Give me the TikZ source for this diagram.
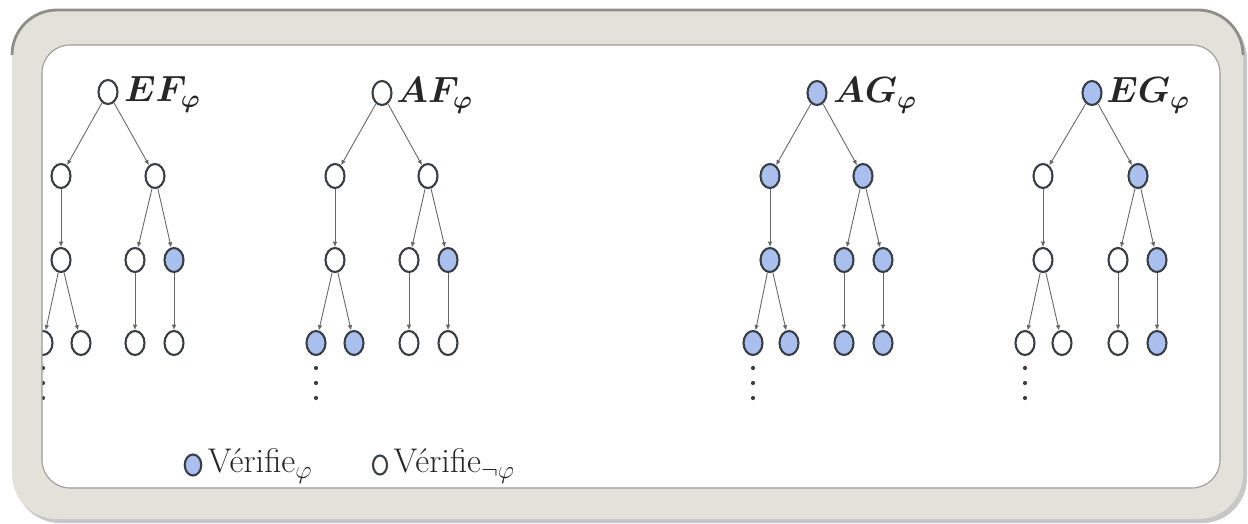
\documentclass[tikz,border=0pt]{standalone}
\usepackage{fontspec}
\usepackage{bm}
\usetikzlibrary{arrows.meta,positioning,shapes.geometric,calc}

\definecolor{satblue}{HTML}{A9C0EE}
\definecolor{ringgray}{HTML}{3A3F45}
\definecolor{framegray}{HTML}{E2E1DA}
\definecolor{framedark}{HTML}{8E8E88}

\tikzset{
  wnode/.style={ellipse,draw=ringgray,line width=1.2pt,fill=white,
    minimum width=0.38cm,minimum height=0.48cm,inner sep=0pt},
  bnode/.style={wnode,fill=satblue},
  trans/.style={draw=black!60,line width=0.5pt,-{Latex[length=3pt,width=2.6pt]}},
  lbl/.style={inner sep=0pt,text=black!85,font=\fontsize{20.74}{24}\selectfont},
  leg/.style={inner sep=0pt,text=black!85,font=\fontsize{19.5}{23}\selectfont},
}

\begin{document}
\begin{tikzpicture}[x=0.02cm,y=-0.02cm]
  \useasboundingbox (0,0) rectangle (1248,524);
  % frame background and shadow
  \fill[black,opacity=0.22,rounded corners=0.9cm] (15,14) rectangle (1247,523);
  \fill[white,rounded corners=0.56cm] (42,45) rectangle (1220,488);

  % EF phi
  \begin{scope}[shift={(108,92)}]
    \foreach \n/\x/\y/\s in {r/0/0/wnode,a/-47/84/wnode,b/47/84/wnode,c/-47/168/wnode,d/27/168/wnode,e/66/168/bnode,f/-65/251/wnode,g/-27/251/wnode,h/27/251/wnode,i/66/251/wnode}
      \node[\s] (ef\n) at (\x,\y) {};
    \foreach \p/\q in {r/a,r/b,a/c,b/d,b/e,c/f,c/g,d/h,e/i}
      \draw[trans] (ef\p) -- (ef\q);
    \node[lbl,anchor=base west] (eflbl) at ([xshift=3pt,yshift=-5.5pt]efr.east) {$\bm{EF}_{\bm\varphi}$};
    \foreach \k in {0,1,2} \fill[black!75] ($(eff)+(0,25+15*\k)$) circle (1.2pt);
  \end{scope}

  % AF phi
  \begin{scope}[shift={(382,93)}]
    \foreach \n/\x/\y/\s in {r/0/0/wnode,a/-47/83/wnode,b/46/83/wnode,c/-47/167/wnode,d/27/167/wnode,e/66/167/bnode,f/-66/250/bnode,g/-28/250/bnode,h/27/250/wnode,i/66/250/wnode}
      \node[\s] (af\n) at (\x,\y) {};
    \foreach \p/\q in {r/a,r/b,a/c,b/d,b/e,c/f,c/g,d/h,e/i}
      \draw[trans] (af\p) -- (af\q);
    \node[lbl,anchor=base west] (aflbl) at ([xshift=2pt,yshift=-5.5pt]afr.east) {$\bm{AF}_{\bm\varphi}$};
    \foreach \k in {0,1,2} \fill[black!75] ($(aff)+(0,25+15*\k)$) circle (1.2pt);
  \end{scope}

  % AG phi
  \begin{scope}[shift={(817,93)}]
    \foreach \n/\x/\y/\s in {r/0/0/bnode,a/-47/83/bnode,b/46/83/bnode,c/-47/167/bnode,d/27/167/bnode,e/66/167/bnode,f/-64/250/bnode,g/-28/250/bnode,h/27/250/bnode,i/66/250/bnode}
      \node[\s] (ag\n) at (\x,\y) {};
    \foreach \p/\q in {r/a,r/b,a/c,b/d,b/e,c/f,c/g,d/h,e/i}
      \draw[trans] (ag\p) -- (ag\q);
    \node[lbl,anchor=base west] (aglbl) at ([xshift=3pt,yshift=-5.5pt]agr.east) {$\bm{AG}_{\bm\varphi}$};
    \foreach \k in {0,1,2} \fill[black!75] ($(agf)+(0,25+15*\k)$) circle (1.2pt);
  \end{scope}

  % EG phi
  \begin{scope}[shift={(1092,93)}]
    \foreach \n/\x/\y/\s in {r/0/0/bnode,a/-49/83/wnode,b/46/83/bnode,c/-49/167/wnode,d/26/167/wnode,e/65/167/bnode,f/-67/250/wnode,g/-30/250/wnode,h/26/250/wnode,i/65/250/bnode}
      \node[\s] (eg\n) at (\x,\y) {};
    \foreach \p/\q in {r/a,r/b,a/c,b/d,b/e,c/f,c/g,d/h,e/i}
      \draw[trans] (eg\p) -- (eg\q);
    \node[lbl,anchor=base west] (eglbl) at ([xshift=2pt,yshift=-5.5pt]egr.east) {$\bm{EG}_{\bm\varphi}$};
    \foreach \k in {0,1,2} \fill[black!75] ($(egf)+(0,25+15*\k)$) circle (1.2pt);
  \end{scope}

  % legend
  \node[bnode,minimum width=0.33cm,minimum height=0.42cm] (legsat) at (193,465) {};
  \node[leg,anchor=base west] (legsattxt) at ([xshift=3pt,yshift=-4.5pt]legsat.east) {Vérifie$_\varphi$};
  \node[wnode,minimum width=0.28cm,minimum height=0.38cm] (legnsat) at (380,465) {};
  \node[leg,anchor=base west] (legnsattxt) at ([xshift=3pt,yshift=-4.5pt]legnsat.east) {Vérifie$_{\neg\varphi}$};

  % frame on top
  \fill[framegray,even odd rule,rounded corners=0.9cm] (12,10) rectangle (1243,519)
    [rounded corners=0.56cm] (42,45) rectangle (1220,488);
  \draw[framedark,line width=1.6pt,rounded corners=0.9cm] (12,55) -- (12,10) -- (1243,10) -- (1243,55);
  \draw[black!40,line width=0.6pt,rounded corners=0.56cm] (42,45) rectangle (1220,488);
\end{tikzpicture}
\end{document}
